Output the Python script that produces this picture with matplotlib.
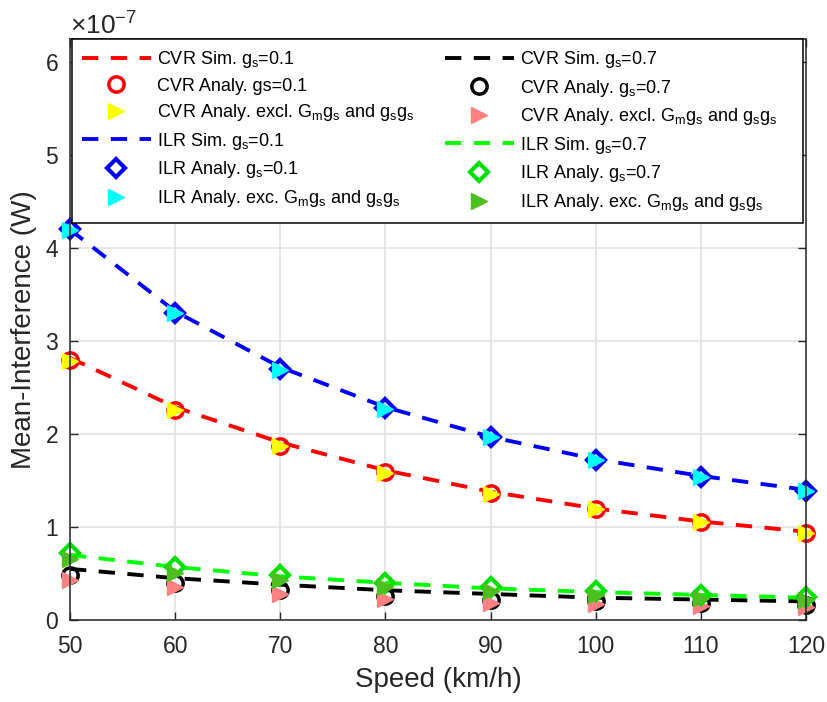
import matplotlib
matplotlib.use("Agg")
import matplotlib.pyplot as plt
from matplotlib.ticker import ScalarFormatter
import numpy as np

plt.rcParams['font.family'] = ['Liberation Sans', 'DejaVu Sans']
plt.rcParams['mathtext.fontset'] = 'custom'
plt.rcParams['mathtext.rm'] = 'Liberation Sans'
plt.rcParams['mathtext.it'] = 'Liberation Sans'
plt.rcParams['mathtext.bf'] = 'Liberation Sans:bold'

speed = [50, 60, 70, 80, 90, 100, 110, 120]
scale = 1e-7

cvr_sim_01 = [2.82, 2.29, 1.91, 1.61, 1.38, 1.20, 1.06, 0.95]
cvr_ana_01 = [2.80, 2.26, 1.87, 1.59, 1.37, 1.19, 1.05, 0.94]
cvr_exc_01 = [2.79, 2.26, 1.87, 1.58, 1.36, 1.19, 1.05, 0.94]
ilr_sim_01 = [4.20, 3.32, 2.72, 2.29, 1.97, 1.73, 1.55, 1.40]
ilr_ana_01 = [4.21, 3.30, 2.70, 2.28, 1.97, 1.72, 1.54, 1.39]
ilr_exc_01 = [4.20, 3.30, 2.69, 2.27, 1.97, 1.72, 1.54, 1.39]
cvr_sim_07 = [0.55, 0.45, 0.38, 0.32, 0.28, 0.24, 0.22, 0.20]
cvr_ana_07 = [0.48, 0.40, 0.32, 0.26, 0.22, 0.20, 0.18, 0.16]
cvr_exc_07 = [0.43, 0.35, 0.28, 0.23, 0.18, 0.17, 0.15, 0.14]
ilr_sim_07 = [0.70, 0.57, 0.47, 0.40, 0.34, 0.30, 0.27, 0.24]
ilr_ana_07 = [0.72, 0.57, 0.48, 0.40, 0.35, 0.31, 0.27, 0.25]
ilr_exc_07 = [0.66, 0.51, 0.43, 0.36, 0.31, 0.27, 0.24, 0.22]

x_ticks = [50, 60, 70, 80, 90, 100, 110, 120]
y_ticks = [0, 1, 2, 3, 4, 5, 6]

def s(v):
    return np.array(v) * scale

fig = plt.figure(figsize=(8.27, 7.02), dpi=100)
ax = fig.add_axes([70/827, 82/702, 736/827, 581/702])

lw = 2.8
dash = (0, (4.2, 3.2))
ms = 11
S = r'$_{\mathregular{s}}$'
M = r'$_{\mathregular{m}}$'
pad2 = '    '
h = []
h.append(ax.plot(speed, s(cvr_sim_01), color='red', lw=lw, ls=dash, label='CVR Sim. g' + S + '=0.1')[0])
h.append(ax.plot(speed, s(cvr_ana_01), ls='none', marker='o', ms=ms, mfc='red', mec='red', mew=2.5, label='CVR Analy. gs=0.1')[0])
h.append(ax.plot(speed, s(cvr_exc_01), ls='none', marker='>', ms=ms, mfc='yellow', mec='yellow', label='CVR Analy. excl. G' + M + 'g' + S + ' and g' + S + 'g' + S)[0])
h.append(ax.plot(speed, s(ilr_sim_01), color='blue', lw=lw, ls=dash, label='ILR Sim. g' + S + '=0.1')[0])
h.append(ax.plot(speed, s(ilr_ana_01), ls='none', marker='D', ms=ms-2, mfc='none', mec='blue', mew=3, label='ILR Analy. g' + S + '=0.1')[0])
h.append(ax.plot(speed, s(ilr_exc_01), ls='none', marker='>', ms=ms, mfc='cyan', mec='cyan', label='ILR Analy. exc. G' + M + 'g' + S + ' and g' + S + 'g' + S)[0])
h.append(ax.plot(speed, s(cvr_sim_07), color='black', lw=lw, ls=dash, label='CVR Sim. g' + S + '=0.7' + pad2)[0])
h.append(ax.plot(speed, s(cvr_ana_07), ls='none', marker='o', ms=ms, mfc='black', mec='black', mew=2.5, label='CVR Analy. g' + S + '=0.7' + pad2)[0])
h.append(ax.plot(speed, s(cvr_exc_07), ls='none', marker='>', ms=ms, mfc='#FF8080', mec='#FF8080', label='CVR Analy. excl. G' + M + 'g' + S + ' and g' + S + 'g' + S + pad2)[0])
h.append(ax.plot(speed, s(ilr_sim_07), color='#00FF00', lw=lw, ls=dash, label='ILR Sim. g' + S + '=0.7' + pad2)[0])
h.append(ax.plot(speed, s(ilr_ana_07), ls='none', marker='D', ms=ms-2, mfc='none', mec='#00E000', mew=3, label='ILR Analy. g' + S + '=0.7' + pad2)[0])
h.append(ax.plot(speed, s(ilr_exc_07), ls='none', marker='>', ms=ms, mfc='#4DBF1F', mec='#4DBF1F', label='ILR Analy. exc. G' + M + 'g' + S + ' and g' + S + 'g' + S + pad2)[0])

h[1].set_markerfacecolor('none')
h[7].set_markerfacecolor('none')
for ln in h:
    ln.set_clip_on(False)

ax.set_xlim(50, 120)
ax.set_ylim(0, 6.25e-7)
ax.set_xticks(x_ticks)
ax.set_yticks(np.array(y_ticks) * scale)
fmt = ScalarFormatter(useMathText=True)
fmt.set_powerlimits((0, 0))
ax.yaxis.set_major_formatter(fmt)
ax.yaxis.get_offset_text().set_fontsize(19)
ax.yaxis.get_offset_text().set_color('#262626')

ax.grid(True, color='#DFDFDF', lw=1.1)
ax.set_axisbelow(True)
ax.tick_params(direction='in', length=6, width=1, colors='#262626', labelsize=16.5,
               top=True, right=True)
ax.tick_params(axis='x', pad=11)
ax.tick_params(axis='y', pad=8)
for sp in ax.spines.values():
    sp.set_color('#262626')
    sp.set_linewidth(1.1)

ax.set_xlabel('Speed (km/h)', fontsize=20, color='#262626', labelpad=6)
ax.set_ylabel('Mean-Interference (W)', fontsize=20, color='#262626', labelpad=6)

leg = ax.legend(handles=h, ncol=2, loc='upper left', bbox_to_anchor=(0.003, 0, 0.993, 1.0),
                mode='expand', borderaxespad=0, fontsize=13, labelspacing=0.42,
                handlelength=3.8, handletextpad=0.35, borderpad=0.55, columnspacing=1.0,
                fancybox=False, framealpha=1, edgecolor='black')
leg.get_frame().set_linewidth(1.1)
leg.set_zorder(5)

fig.savefig('out.png', dpi=100)
